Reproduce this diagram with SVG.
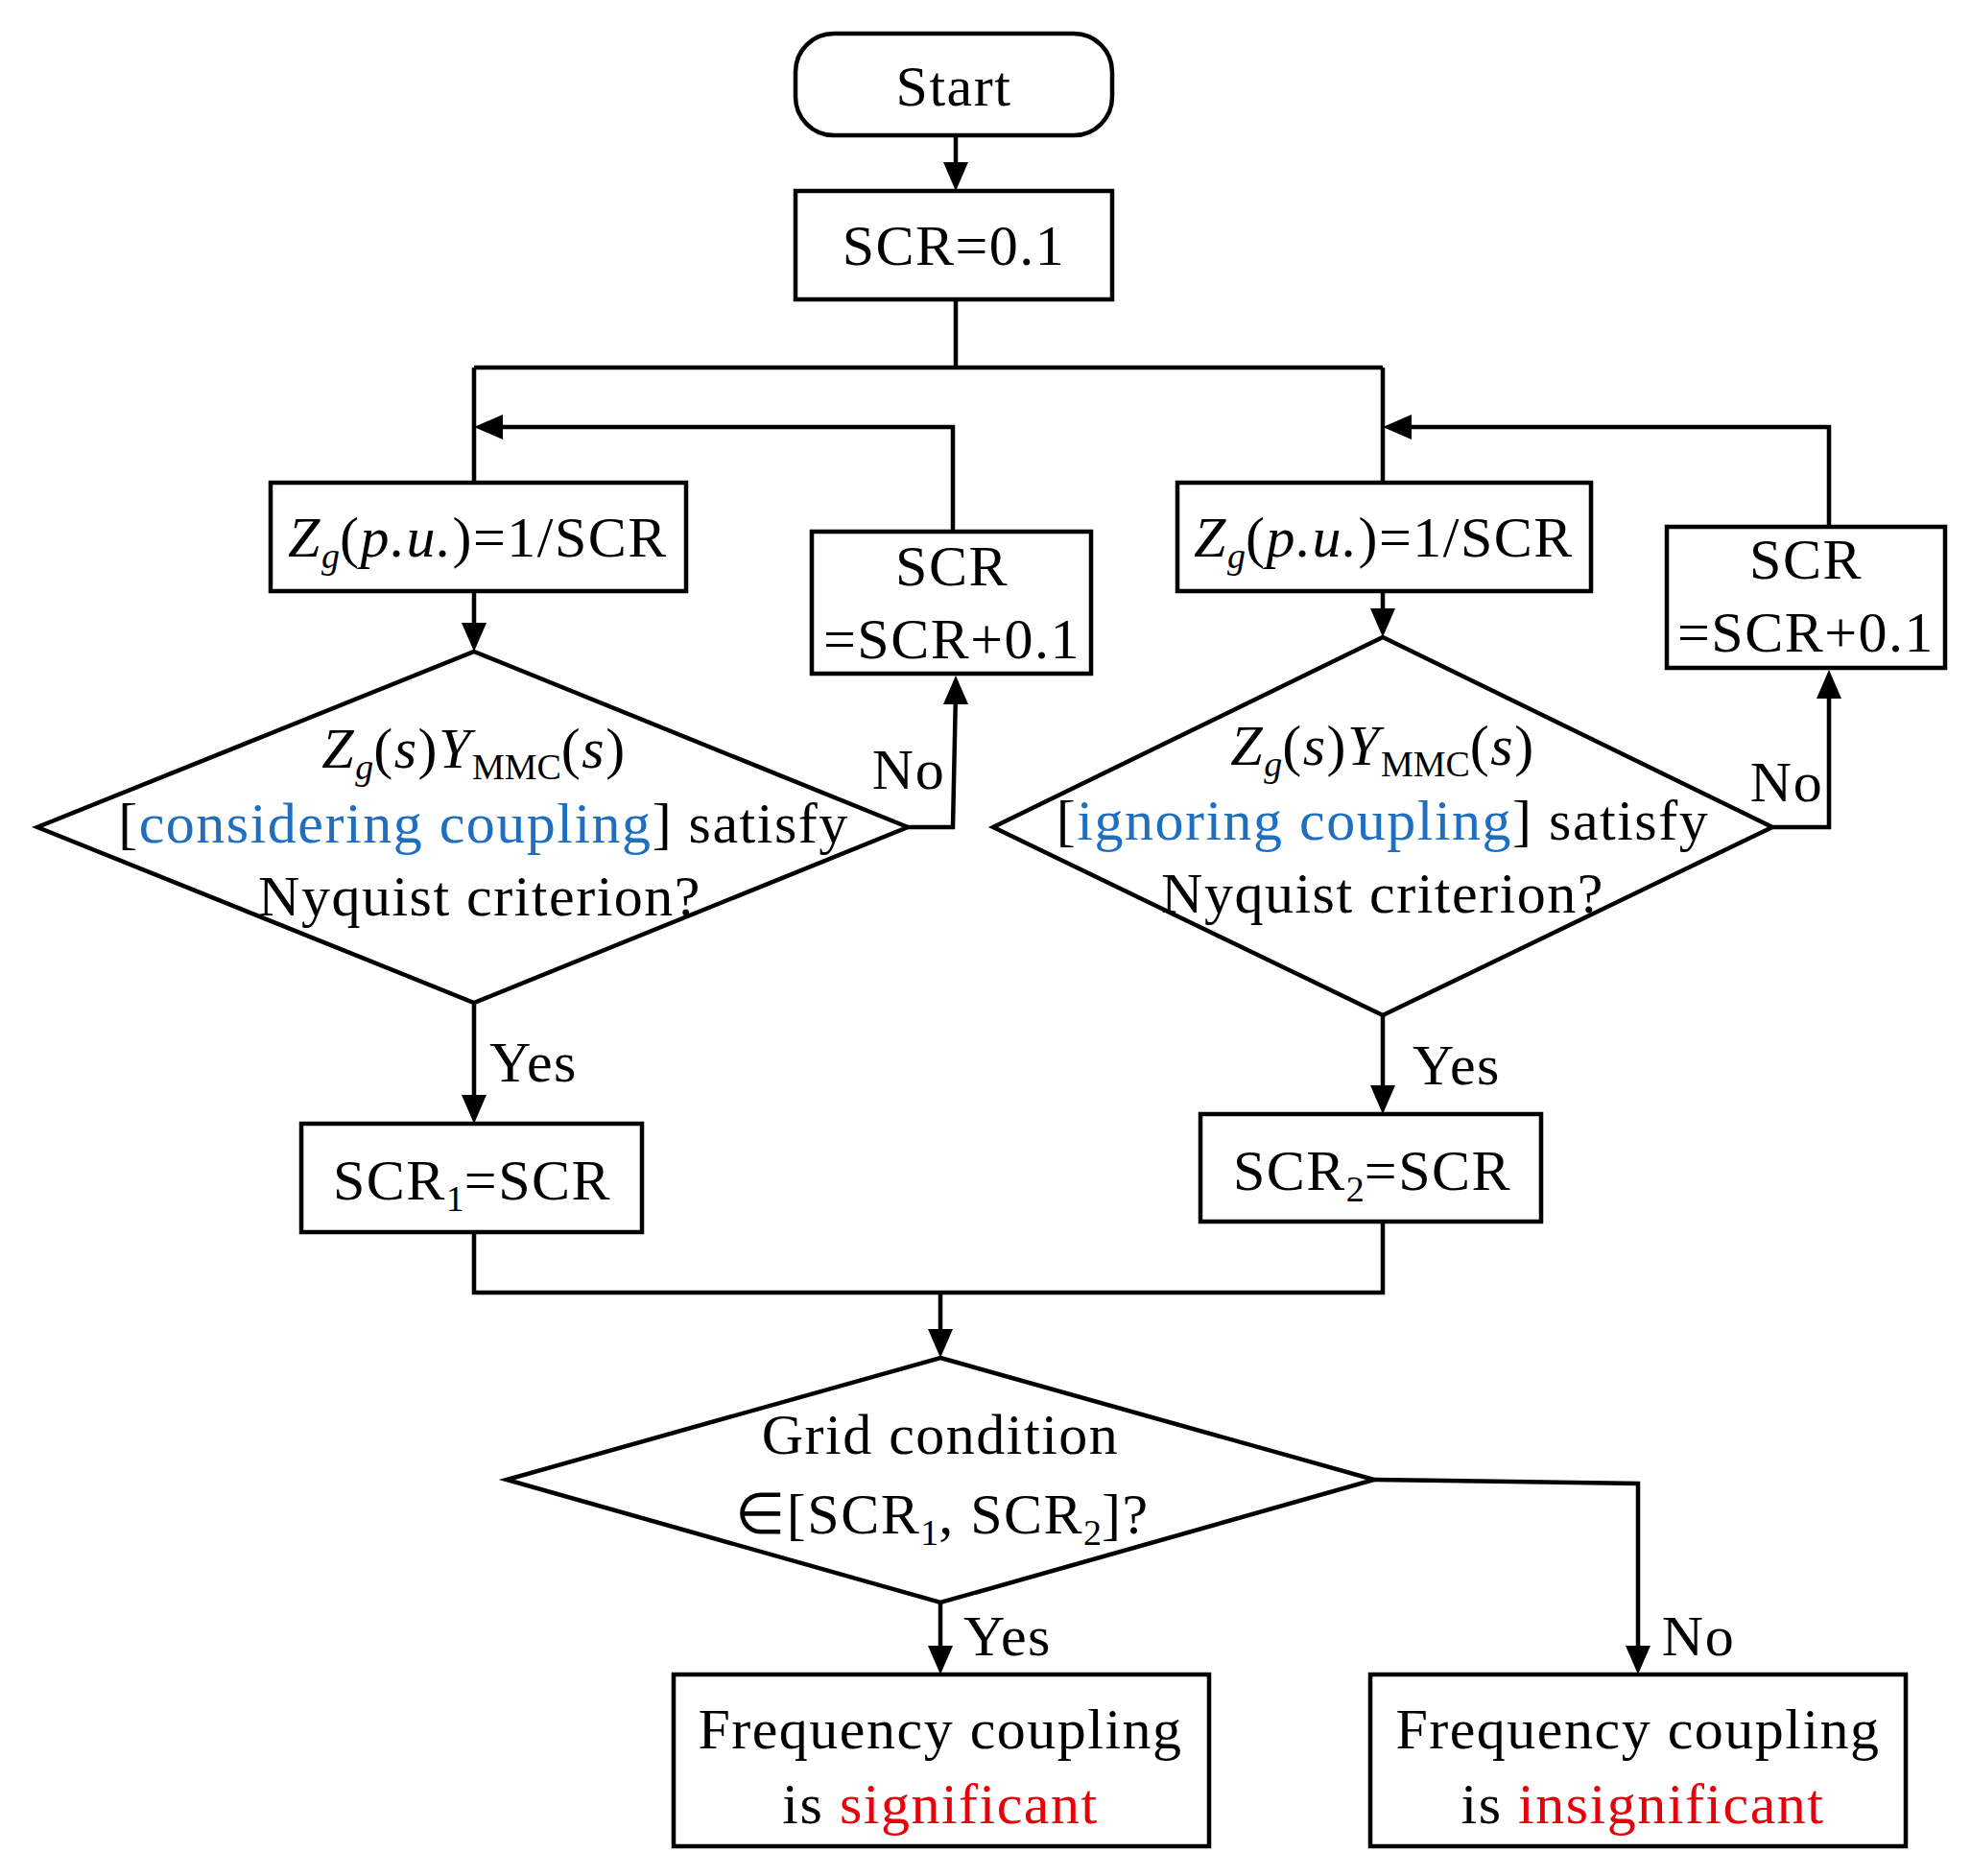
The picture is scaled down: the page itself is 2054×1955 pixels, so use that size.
<svg xmlns="http://www.w3.org/2000/svg" width="2054" height="1955" viewBox="0 0 2054 1955">
<defs>
<style>
.b{fill:#fff;stroke:#000;stroke-width:4.5}
.c{fill:none;stroke:#000;stroke-width:4.5}
text{font-family:"Liberation Serif","Times New Roman",serif;font-size:60px;letter-spacing:1.5px;fill:#000;text-anchor:middle}
.bl{fill:#1f6fc0}.rd{fill:#e8000b}
.sub{font-size:38px;letter-spacing:0}
</style>
</defs>
<rect width="2054" height="1955" fill="#fff"/>
<g id="connectors">
<path class="c" d="M996,141V180"/>
<path class="c" d="M996,312V383M494,383H1441M494,383V503M1441,383V503"/>
<path class="c" d="M993,554V445H510"/>
<path class="c" d="M1906,549V445H1457"/>
<path class="c" d="M494,616V662"/>
<path class="c" d="M1441,616V648"/>
<path class="c" d="M946,862H993L996,720"/>
<path class="c" d="M1847,862H1906V714"/>
<path class="c" d="M494,1045V1155"/>
<path class="c" d="M1441,1058V1145"/>
<path class="c" d="M494,1284V1347H1441V1273M980,1347V1399"/>
<path class="c" d="M980,1670V1729"/>
<path class="c" d="M1432,1542L1707,1546V1729"/>
</g>
<g id="arrowheads">
<path d="M996,199l-13,-30h26z"/>
<path d="M494,445l30,-13v26z"/>
<path d="M1441,445l30,-13v26z"/>
<path d="M494,679l-13,-30h26z"/>
<path d="M1441,664l-13,-30h26z"/>
<path d="M996,704l-13,30h26z"/>
<path d="M1906,698l-13,30h26z"/>
<path d="M494,1171l-13,-30h26z"/>
<path d="M1441,1161l-13,-30h26z"/>
<path d="M980,1415l-13,-30h26z"/>
<path d="M980,1745l-13,-30h26z"/>
<path d="M1707,1745l-13,-30h26z"/>
</g>
<g id="start"><rect class="b" x="829" y="35" width="330" height="106" rx="40"/><text x="994" y="110">Start</text></g>
<g id="init"><rect class="b" x="829" y="199" width="330" height="113"/><text x="994" y="276">SCR=0.1</text></g>
<g id="zg1"><rect class="b" x="282" y="503" width="433" height="113"/><text x="498" y="580"><tspan font-style="italic">Z</tspan><tspan class="sub" font-style="italic" dy="12">g</tspan><tspan dy="-12">(</tspan><tspan font-style="italic">p.u.</tspan>)=1/SCR</text></g>
<g id="inc1"><rect class="b" x="846" y="554" width="291" height="148"/><text x="992" y="610">SCR</text><text x="992" y="686">=SCR+0.1</text></g>
<g id="d1"><path class="b" d="M494,679L946,862L494,1045L39,862Z"/>
<text x="494" y="800"><tspan font-style="italic">Z</tspan><tspan class="sub" font-style="italic" dy="12">g</tspan><tspan dy="-12">(</tspan><tspan font-style="italic">s</tspan>)<tspan font-style="italic">Y</tspan><tspan class="sub" dy="12">MMC</tspan><tspan dy="-12">(</tspan><tspan font-style="italic">s</tspan>)</text>
<text x="504" y="878">[<tspan class="bl">considering coupling</tspan>] satisfy</text>
<text x="500" y="954">Nyquist criterion?</text></g>
<text x="947" y="822">No</text>
<text x="556" y="1127">Yes</text>
<g id="scr1"><rect class="b" x="314" y="1171" width="355" height="113"/><text x="492" y="1250">SCR<tspan class="sub" dy="12">1</tspan><tspan dy="-12">=SCR</tspan></text></g>
<g id="zg2"><rect class="b" x="1227" y="503" width="431" height="113"/><text x="1442" y="580"><tspan font-style="italic">Z</tspan><tspan class="sub" font-style="italic" dy="12">g</tspan><tspan dy="-12">(</tspan><tspan font-style="italic">p.u.</tspan>)=1/SCR</text></g>
<g id="inc2"><rect class="b" x="1737" y="549" width="290" height="147"/><text x="1882" y="603">SCR</text><text x="1882" y="679">=SCR+0.1</text></g>
<g id="d2"><path class="b" d="M1441,664L1847,862L1441,1058L1035,862Z"/>
<text x="1441" y="797"><tspan font-style="italic">Z</tspan><tspan class="sub" font-style="italic" dy="12">g</tspan><tspan dy="-12">(</tspan><tspan font-style="italic">s</tspan>)<tspan font-style="italic">Y</tspan><tspan class="sub" dy="12">MMC</tspan><tspan dy="-12">(</tspan><tspan font-style="italic">s</tspan>)</text>
<text x="1441" y="875">[<tspan class="bl">ignoring coupling</tspan>] satisfy</text>
<text x="1441" y="951">Nyquist criterion?</text></g>
<text x="1862" y="835">No</text>
<text x="1518" y="1130">Yes</text>
<g id="scr2"><rect class="b" x="1251" y="1161" width="355" height="112"/><text x="1430" y="1240">SCR<tspan class="sub" dy="12">2</tspan><tspan dy="-12">=SCR</tspan></text></g>
<g id="d3"><path class="b" d="M980,1415L1432,1542L980,1670L528,1542Z"/>
<text x="980" y="1515">Grid condition</text>
<text x="982" y="1598">∈[SCR<tspan class="sub" dy="12">1</tspan><tspan dy="-12">, SCR</tspan><tspan class="sub" dy="12">2</tspan><tspan dy="-12">]?</tspan></text></g>
<text x="1050" y="1725">Yes</text>
<text x="1770" y="1725">No</text>
<g id="sig"><rect class="b" x="702" y="1745" width="558" height="179"/><text x="980" y="1822">Frequency coupling</text><text x="980" y="1900">is <tspan class="rd">significant</tspan></text></g>
<g id="insig"><rect class="b" x="1428" y="1745" width="558" height="179"/><text x="1707" y="1822">Frequency coupling</text><text x="1712" y="1900">is <tspan class="rd">insignificant</tspan></text></g>
</svg>
